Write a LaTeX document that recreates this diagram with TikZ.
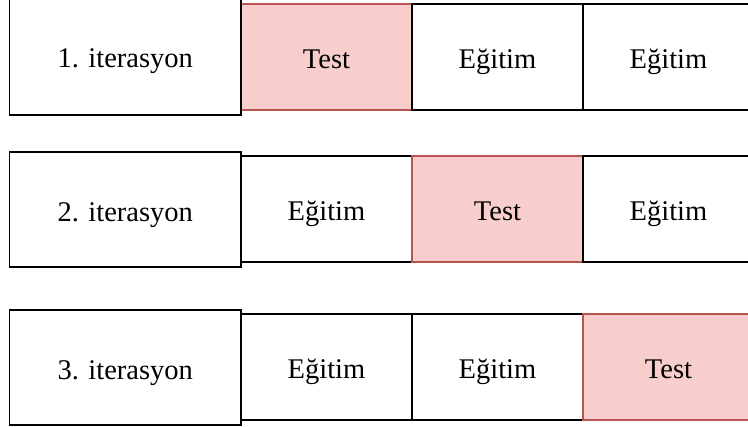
\documentclass[tikz,border=0pt]{standalone}
\usepackage{fontspec}
\newfontfamily\boxfont{Liberation Serif}
\definecolor{testfill}{HTML}{F8CECC}
\definecolor{testline}{HTML}{B85450}
\begin{document}
\begin{tikzpicture}[x=1pt,y=-1pt,
  box/.style={rectangle, draw=black, fill=white, line width=1.6pt, inner sep=0pt,
    outer sep=0pt, anchor=north west, text height=24pt, text depth=0pt,
    font=\boxfont\fontsize{28.5}{34}\selectfont},
  foldcell/.style={box, minimum width=171pt, minimum height=106pt},
  traincell/.style={foldcell},
  testcell/.style={foldcell, draw=testline, fill=testfill},
  iterbox/.style={box, minimum width=231.5pt, minimum height=115pt}]
  \useasboundingbox (0,0) rectangle (748,427);
  \clip (0,0) rectangle (748,427);

  % iteration 1: first fold held out
  \node[testcell]  (r1c1) at (241,4) {Test};
  \node[traincell] (r1c2) at (412,4) {Eğitim};
  \node[traincell] (r1c3) at (583,4) {Eğitim};
  \node[iterbox, minimum height=118pt] (r1) at (9.5,-3) {1. iterasyon};

  % iteration 2: middle fold held out
  \node[traincell] (r2c1) at (241,156) {Eğitim};
  \node[testcell]  (r2c2) at (412,156) {Test};
  \node[traincell] (r2c3) at (583,156) {Eğitim};
  \node[iterbox] (r2) at (9.5,152) {2. iterasyon};

  % iteration 3: last fold held out
  \node[traincell] (r3c1) at (241,314) {Eğitim};
  \node[traincell] (r3c2) at (412,314) {Eğitim};
  \node[testcell]  (r3c3) at (583,314) {Test};
  \node[iterbox] (r3) at (9.5,310) {3. iterasyon};
\end{tikzpicture}
\end{document}
